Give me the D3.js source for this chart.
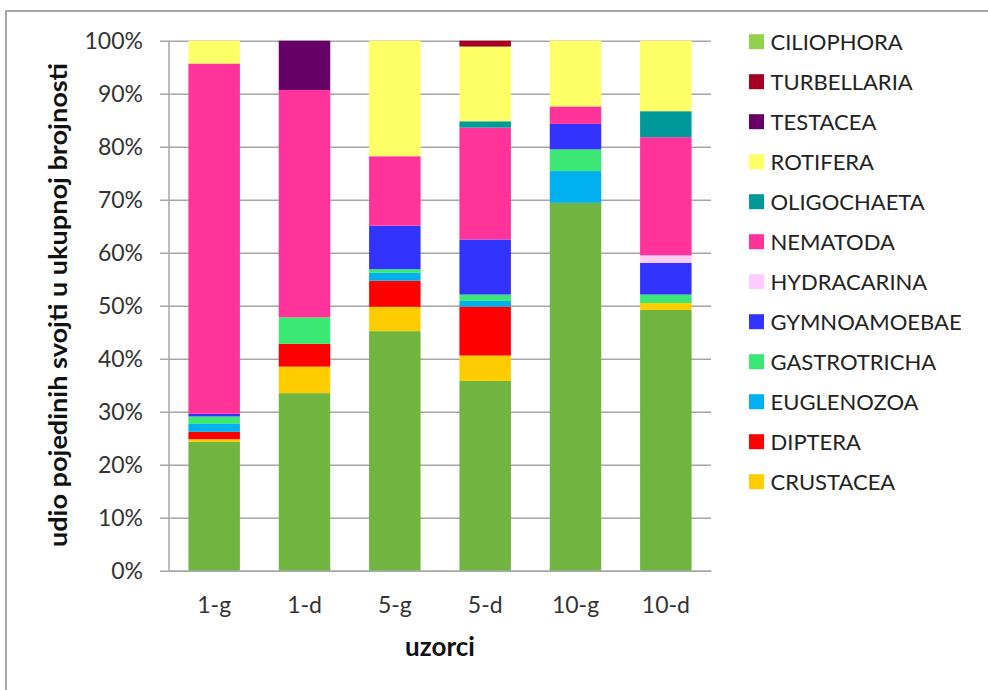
<!DOCTYPE html>
<html><head><meta charset="utf-8">
<script src="https://cdn.jsdelivr.net/npm/d3@7"></script>
<style>body{margin:0;background:#fff}svg{display:block}text{font-family:Lato,"Open Sans",sans-serif}</style>
</head><body><svg id="c" width="988" height="690"></svg>
<script>
const categories = ["1-g","1-d","5-g","5-d","10-g","10-d"];
// stacking order bottom -> top
const seriesNames = ["CILIOPHORA","CRUSTACEA","DIPTERA","EUGLENOZOA","GASTROTRICHA","GYMNOAMOEBAE","HYDRACARINA","NEMATODA","OLIGOCHAETA","ROTIFERA","TESTACEA","TURBELLARIA"];
const ciliophora   = [24.3, 33.5, 45.2, 35.8, 69.4, 49.2];
const crustacea    = [0.5, 5.0, 4.6, 4.8, 0, 1.3];
const diptera      = [1.4, 4.3, 4.9, 9.2, 0, 0];
const euglenozoa   = [1.5, 0, 1.5, 1.1, 6.0, 0];
const gastrotricha = [1.4, 5.0, 0.7, 1.2, 4.1, 1.6];
const gymnoamoebae = [0.5, 0, 8.2, 10.4, 4.8, 6.0];
const hydracarina  = [0, 0, 0, 0, 0, 1.4];
const nematoda     = [66.1, 42.9, 13.1, 21.1, 3.3, 22.3];
const oligochaeta  = [0, 0, 0, 1.2, 0, 4.9];
const rotifera     = [4.3, 0, 21.8, 14.1, 12.4, 13.3];
const testacea     = [0, 9.3, 0, 0, 0, 0];
const turbellaria  = [0, 0, 0, 1.1, 0, 0];
const yTicks = [0,10,20,30,40,50,60,70,80,90,100];
const legendOrder = ["CILIOPHORA","TURBELLARIA","TESTACEA","ROTIFERA","OLIGOCHAETA","NEMATODA","HYDRACARINA","GYMNOAMOEBAE","GASTROTRICHA","EUGLENOZOA","DIPTERA","CRUSTACEA"];

const values = [ciliophora,crustacea,diptera,euglenozoa,gastrotricha,gymnoamoebae,hydracarina,nematoda,oligochaeta,rotifera,testacea,turbellaria];
const colors = {CILIOPHORA:"#71B541",CRUSTACEA:"#FFCC00",DIPTERA:"#FF0000",EUGLENOZOA:"#00B0F0",GASTROTRICHA:"#3BE874",GYMNOAMOEBAE:"#3333FF",HYDRACARINA:"#FFCCFF",NEMATODA:"#FF3399",OLIGOCHAETA:"#009999",ROTIFERA:"#FFFF66",TESTACEA:"#660066",TURBELLARIA:"#A50021"};
const legendColors = Object.assign({}, colors, {CILIOPHORA:"#92D050"});

const rows = categories.map((c,i)=>{const r={cat:c}; seriesNames.forEach((s,j)=>r[s]=values[j][i]); return r;});
const stacked = d3.stack().keys(seriesNames)(rows);

const svg = d3.select("#c");
// outer frame
svg.append("rect").attr("x",6).attr("y",11).attr("width",990).attr("height",690)
  .attr("fill","#fff").attr("stroke","#8c8c8c").attr("stroke-width",1.5);

const m = {l:169, r:711, t:40.7, b:570.7};
const x = d3.scaleBand().domain(categories).range([m.l,m.r]).paddingInner(0.43).paddingOuter(0.215);
const y = d3.scaleLinear().domain([0,100]).range([m.b,m.t]);

// gridlines
const yAxis = d3.axisLeft(y).tickValues(yTicks).tickFormat(d=>d+"%").tickSize(-(m.r-m.l)).tickPadding(26);
const gy = svg.append("g").attr("transform",`translate(${m.l},0)`).call(yAxis);
gy.select(".domain").remove();
gy.selectAll(".tick line").attr("stroke","#a6a6a6").attr("stroke-width",1.5).attr("x1",-9);
gy.selectAll(".tick text").attr("font-size",23).attr("fill","#333").attr("dy","0.36em");
svg.append("line").attr("x1",m.l).attr("x2",m.l).attr("y1",m.t).attr("y2",m.b).attr("stroke","#a6a6a6").attr("stroke-width",1.5);

svg.append("g").selectAll("g").data(stacked).join("g").attr("fill",d=>colors[d.key])
  .selectAll("rect").data(d=>d).join("rect")
  .attr("x",d=>x(d.data.cat)).attr("width",x.bandwidth())
  .attr("y",d=>y(d[1])).attr("height",d=>Math.max(0,y(d[0])-y(d[1])));

// x axis
const xAxis = d3.axisBottom(x).tickSize(0).tickPadding(26);
const gx = svg.append("g").attr("transform",`translate(0,${m.b})`).call(xAxis);
gx.select(".domain").attr("stroke","#a6a6a6").attr("stroke-width",1.5);
gx.selectAll(".tick text").attr("font-size",23).attr("fill","#333");

svg.append("text").attr("x",440).attr("y",656).attr("text-anchor","middle")
  .attr("font-size",26).attr("font-weight","bold").attr("fill","#111").text("uzorci");
svg.append("text").attr("transform","translate(67,305) rotate(-90)").attr("text-anchor","middle")
  .attr("font-size",25).attr("font-weight","bold").attr("fill","#111")
  .attr("textLength",484).attr("lengthAdjust","spacingAndGlyphs")
  .text("udio pojedinih svojti u ukupnoj brojnosti");

// legend
const lg = svg.append("g").selectAll("g").data(legendOrder).join("g")
  .attr("transform",(d,i)=>`translate(749,${41.7+i*40})`);
lg.append("rect").attr("x",0).attr("y",-7.5).attr("width",15).attr("height",15).attr("fill",d=>legendColors[d]);
lg.append("text").attr("x",21.5).attr("dy","0.36em").attr("font-size",22).attr("fill","#222").text(d=>d);
</script></body></html>
